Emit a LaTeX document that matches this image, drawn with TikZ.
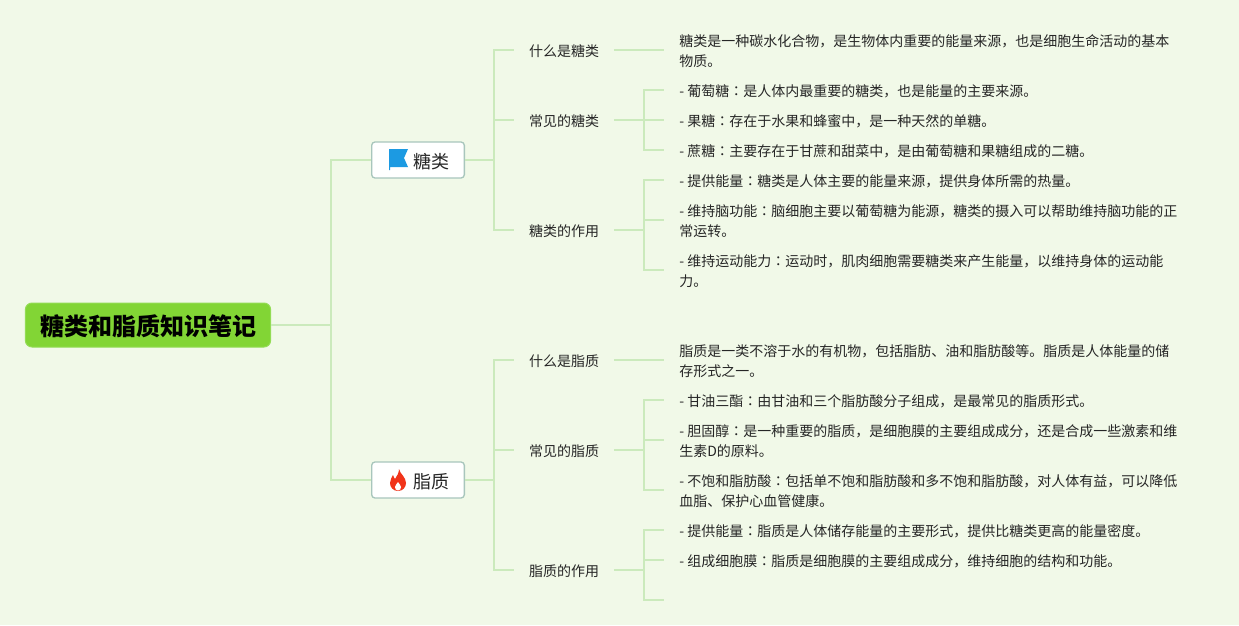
\documentclass[tikz,border=0pt]{standalone}
\usepackage{fontspec}
\setmainfont{Noto Sans CJK SC}
\newfontfamily\cjktc{Noto Sans CJK TC}
\usepackage{xcolor}
\usetikzlibrary{positioning}
\definecolor{paper}{HTML}{F1F9E8}
\definecolor{ink}{HTML}{262626}
\definecolor{wire}{HTML}{CBEABC}
\definecolor{rootfill}{HTML}{82D535}
\definecolor{rootedge}{HTML}{93DC55}
\definecolor{boxedge}{HTML}{A8C6BC}
\definecolor{flagblue}{HTML}{1C9AE2}
\definecolor{flamered}{HTML}{F1341A}
\newcommand{\mh}{{\cjktc ：}}
\newcommand{\dn}[1]{\raisebox{-1.1pt}[\height][\depth]{#1}}

\begin{document}
\begin{tikzpicture}[x=0.75pt, y=-0.75pt,
  link/.style={draw=wire, line width=1.5pt},
  rootnode/.style={draw=rootedge, fill=rootfill, rounded corners=5pt, line width=0.75pt, minimum width=184pt, minimum height=33pt, inner sep=0pt, font=\fontsize{18}{22}\selectfont\bfseries, text=black},
  branch/.style={draw=boxedge, fill=white, rounded corners=2.5pt, line width=1pt, text width=46.5pt, inner xsep=11.5pt, inner ysep=0pt, minimum height=27pt, align=right, font=\fontsize{13.5}{16}\selectfont, text=ink},
  topic/.style={minimum width=75pt, inner sep=0pt, minimum height=15pt, font=\fontsize{10.5}{15}\selectfont, text=ink},
  leaf/.style={anchor=west, inner xsep=11.25pt, inner ysep=0pt, align=left, font=\fontsize{10.5}{15}\selectfont, text=ink}]
\fill[paper] (0,0) rectangle (1239,625);
\useasboundingbox (0,0) rectangle (1239,625);

\node[rootnode] (root) at (148,325) {\dn{\hspace{0.75pt}糖类和脂质知识笔记}};
\node[branch] (sugar) at (418,160) {\dn{糖类}};
\node[branch] (lipid) at (418,480) {\dn{脂质}};
\draw[link] (root.east) -- ++(60,0) |- (sugar.west);
\draw[link] (root.east) -- ++(60,0) |- (lipid.west);

% second level
\foreach \y/\n/\p/\t in {50/swhat/sugar/什么是糖类, 120/skind/sugar/常见的糖类, 230/suse/sugar/糖类的作用,
    360/lwhat/lipid/什么是脂质, 450/lkind/lipid/常见的脂质, 570/luse/lipid/脂质的作用} {
  \node[topic, anchor=center] (\n) at (564,\y) {\dn{\t}};
  \draw[link] (\p.east) -- ++(29,0) |- (\n.west);
}

% notes, set 1.5 px low against their connector
\foreach \y/\n/\p/\t in {
    50/n1/swhat/{糖类是一种碳水化合物，是生物体内重要的能量来源，也是细胞生命活动的基本\\物质。},
    90/n2/skind/{- 葡萄糖\mh 是人体内最重要的糖类，也是能量的主要来源。},
    120/n3/skind/{- 果糖\mh 存在于水果和蜂蜜中，是一种天然的单糖。},
    150/n4/skind/{- 蔗糖\mh 主要存在于甘蔗和甜菜中，是由葡萄糖和果糖组成的二糖。},
    180/n5/suse/{- 提供能量\mh 糖类是人体主要的能量来源，提供身体所需的热量。},
    220/n6/suse/{- 维持脑功能\mh 脑细胞主要以葡萄糖为能源，糖类的摄入可以帮助维持脑功能的正\\常运转。},
    270/n7/suse/{- 维持运动能力\mh 运动时，肌肉细胞需要糖类来产生能量，以维持身体的运动能\\力。},
    360/n8/lwhat/{脂质是一类不溶于水的有机物，包括脂肪、油和脂肪酸等。脂质是人体能量的储\\存形式之一。},
    400/n9/lkind/{- 甘油三酯\mh 由甘油和三个脂肪酸分子组成，是最常见的脂质形式。},
    440/n10/lkind/{- 胆固醇\mh 是一种重要的脂质，是细胞膜的主要组成成分，还是合成一些激素和维\\生素D的原料。},
    490/n11/lkind/{- 不饱和脂肪酸\mh 包括单不饱和脂肪酸和多不饱和脂肪酸，对人体有益，可以降低\\血脂、保护心血管健康。},
    530/n12/luse/{- 提供能量\mh 脂质是人体储存能量的主要形式，提供比糖类更高的能量密度。},
    560/n13/luse/{- 组成细胞膜\mh 脂质是细胞膜的主要组成成分，维持细胞的结构和功能。}} {
  \node[leaf] (\n) at (664,\y+1.5) {\t};
  \draw[link] (\p.east) -- ++(30,0) |- ([yshift=1.125pt]\n.west);
}
\coordinate (n14) at (664,600);
\draw[link] (luse.east) -- ++(30,0) |- (n14);

% icons
\fill[flagblue] (389,149) -- (408,149) -- (404,158) -- (408,167) -- (390,167) -- (390,170) -- (389,170) -- cycle;
\fill[flamered] (399,469) .. controls (400,474) and (406,477) .. (406,483)
  .. controls (406,487) and (403,491) .. (398,491) .. controls (393,491) and (390,487) .. (390,483)
  .. controls (390,480) and (392,477) .. (393,475) .. controls (394,477) and (394,478) .. (395,479)
  .. controls (397,476) and (399,473) .. (399,469) -- cycle;
\fill[white] (398,482) .. controls (399,484) and (401,485) .. (401,487)
  .. controls (401,489) and (400,490.5) .. (398,490.5) .. controls (396,490.5) and (395,489) .. (395,487)
  .. controls (395,485) and (397,484) .. (398,482) -- cycle;
\end{tikzpicture}
\end{document}
